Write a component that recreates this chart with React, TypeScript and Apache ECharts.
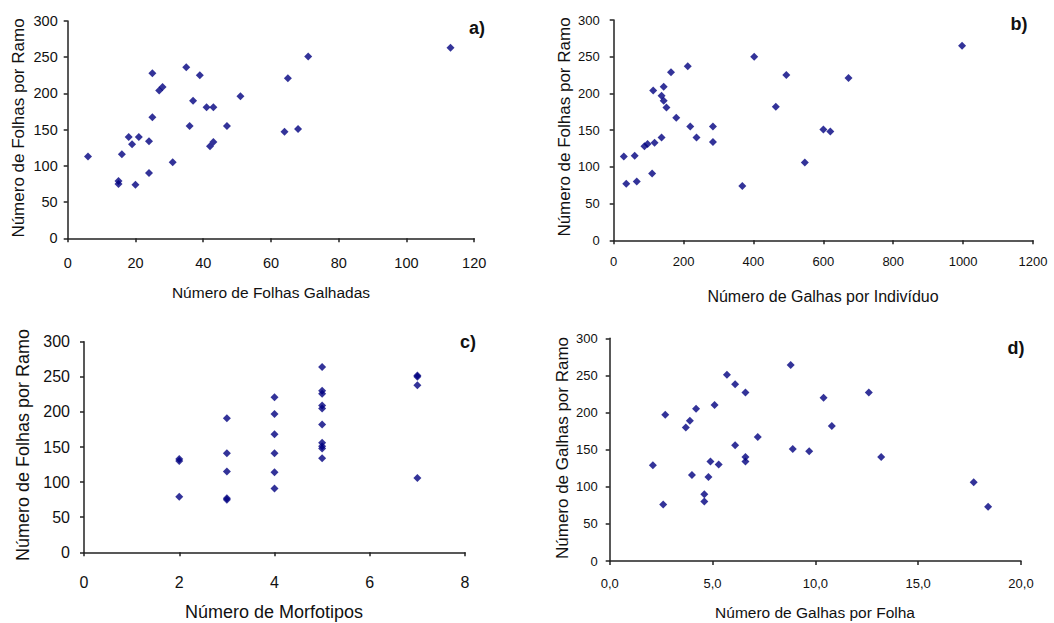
import React, { useEffect, useRef } from "react";
import * as echarts from "echarts";

// Panel a: Número de Folhas Galhadas vs Número de Folhas por Ramo
const aX = [6, 15, 15, 16, 18, 19, 20, 21, 24, 24, 25, 25, 27, 28, 31, 35, 36, 37, 39, 41, 43, 42, 43, 47, 51, 64, 65, 68, 71, 113];
const aY = [113, 75, 79, 116, 140, 130, 74, 140, 134, 90, 228, 167, 204, 209, 105, 236, 155, 190, 225, 181, 181, 127, 133, 155, 196, 147, 221, 151, 251, 263];

// Panel b: Número de Galhas por Indivíduo vs Número de Folhas por Ramo
const bX = [29, 36, 60, 66, 88, 97, 110, 113, 117, 137, 137, 143, 143, 151, 164, 179, 212, 219, 237, 284, 284, 368, 402, 464, 494, 547, 600, 620, 672, 997];
const bY = [114, 77, 115, 80, 128, 131, 91, 204, 133, 140, 197, 209, 190, 181, 229, 167, 237, 155, 140, 155, 134, 74, 250, 182, 225, 106, 151, 148, 221, 265];

// Panel c: Número de Morfotipos vs Número de Folhas por Ramo
const cX = [2, 2, 2, 3, 3, 3, 3, 3, 4, 4, 4, 4, 4, 4, 5, 5, 5, 5, 5, 5, 5, 5, 5, 5, 7, 7, 7, 7];
const cY = [133, 130, 79, 191, 141, 115, 77, 75, 221, 197, 168, 141, 114, 91, 264, 230, 226, 209, 205, 182, 156, 151, 148, 134, 252, 250, 238, 106];

// Panel d: Número de Galhas por Folha vs Número de Galhas por Ramo
const dX = [2.1, 2.6, 2.7, 3.7, 3.9, 4.0, 4.2, 4.6, 4.6, 4.8, 4.9, 5.1, 5.3, 5.7, 6.1, 6.1, 6.6, 6.6, 6.6, 7.2, 8.8, 8.9, 9.7, 10.4, 10.8, 12.6, 13.2, 17.7, 18.4];
const dY = [129, 76, 197, 180, 189, 116, 205, 80, 90, 113, 134, 210, 130, 251, 156, 238, 227, 140, 134, 167, 264, 151, 148, 220, 182, 227, 140, 106, 73];

const panelLabels = ["a)", "b)", "c)", "d)"];
const xTitles = ["Número de Folhas Galhadas", "Número de Galhas por Indivíduo", "Número de Morfotipos", "Número de Galhas por Folha"];
const yTitles = ["Número de Folhas por Ramo", "Número de Folhas por Ramo", "Número de Folhas por Ramo", "Número de Galhas por Ramo"];

const zip = (xs: number[], ys: number[]) => xs.map((x, i) => [x, ys[i]]);

export default function App() {
  const ref = useRef<HTMLDivElement>(null);
  useEffect(() => {
    document.body.style.margin = "0";
    const chart = echarts.init(ref.current!, undefined, { renderer: "svg" });
    const font = "'Liberation Sans', Arial, sans-serif";
    const grids = [
      { left: 67.7, top: 21, width: 406.5, height: 217.3 },
      { left: 613.7, top: 20, width: 419.3, height: 220.3 },
      { left: 84, top: 341.7, width: 381, height: 210.6 },
      { left: 609.7, top: 338.3, width: 411.3, height: 222.7 },
    ];
    const xCfg = [
      { max: 120, interval: 20, fmt: (v: number) => String(v) },
      { max: 1200, interval: 200, fmt: (v: number) => String(v) },
      { max: 8, interval: 2, fmt: (v: number) => String(v) },
      { max: 20, interval: 5, fmt: (v: number) => v.toFixed(1).replace(".", ",") },
    ];
    const tickFont = [14.5, 13, 16, 13];
    const xMargin = [17, 15, 22, 16];
    const yMargin = [10, 14, 14, 12];
    const xTitleFont = [15.5, 16, 18, 15.5];
    const yTitleFont = [17, 17, 18, 17];
    const axisLine = { show: true, lineStyle: { color: "#222", width: 1.5 } };
    const axisTick = { show: true, length: 4, lineStyle: { color: "#222", width: 1.5 } };
    const data = [zip(aX, aY), zip(bX, bY), zip(cX, cY), zip(dX, dY)];
    const titlePos = [
      { xt: [271, 292], yt: [18, 128] },
      { xt: [823, 296], yt: [564, 127] },
      { xt: [274, 612], yt: [23, 445] },
      { xt: [815, 612], yt: [562, 448] },
    ];
    const labelPos = [
      [477, 28],
      [1019, 24],
      [468, 342],
      [1016, 348],
    ];
    const graphic: any[] = [];
    for (let i = 0; i < 4; i++) {
      graphic.push({
        type: "text",
        x: titlePos[i].xt[0],
        y: titlePos[i].xt[1],
        style: { text: xTitles[i], fontSize: xTitleFont[i], fontFamily: font, fill: "#111", align: "center", verticalAlign: "middle" },
      });
      graphic.push({
        type: "text",
        x: titlePos[i].yt[0],
        y: titlePos[i].yt[1],
        rotation: Math.PI / 2,
        style: { text: yTitles[i], fontSize: yTitleFont[i], fontFamily: font, fill: "#111", align: "center", verticalAlign: "middle" },
      });
      graphic.push({
        type: "text",
        x: labelPos[i][0],
        y: labelPos[i][1],
        style: { text: panelLabels[i], fontSize: 18, fontWeight: "bold", fontFamily: font, fill: "#111", align: "center", verticalAlign: "middle" },
      });
    }
    chart.setOption({
      animation: false,
      backgroundColor: "#fff",
      grid: grids,
      xAxis: xCfg.map((c, i) => ({
        type: "value",
        gridIndex: i,
        min: 0,
        max: c.max,
        interval: c.interval,
        splitLine: { show: false },
        axisLine,
        axisTick,
        axisLabel: { color: "#111", fontSize: tickFont[i], fontFamily: font, margin: xMargin[i], formatter: c.fmt },
      })),
      yAxis: [0, 1, 2, 3].map((i) => ({
        type: "value",
        gridIndex: i,
        min: 0,
        max: 300,
        interval: 50,
        splitLine: { show: false },
        axisLine,
        axisTick,
        axisLabel: { color: "#111", fontSize: tickFont[i], fontFamily: font, margin: yMargin[i] },
      })),
      series: data.map((d, i) => ({
        type: "scatter",
        xAxisIndex: i,
        yAxisIndex: i,
        data: d,
        symbol: "diamond",
        symbolSize: 8,
        itemStyle: { color: "#000080" },
      })),
      graphic,
    });
    return () => chart.dispose();
  }, []);
  return <div ref={ref} style={{ width: 1054, height: 623 }} />;
}
